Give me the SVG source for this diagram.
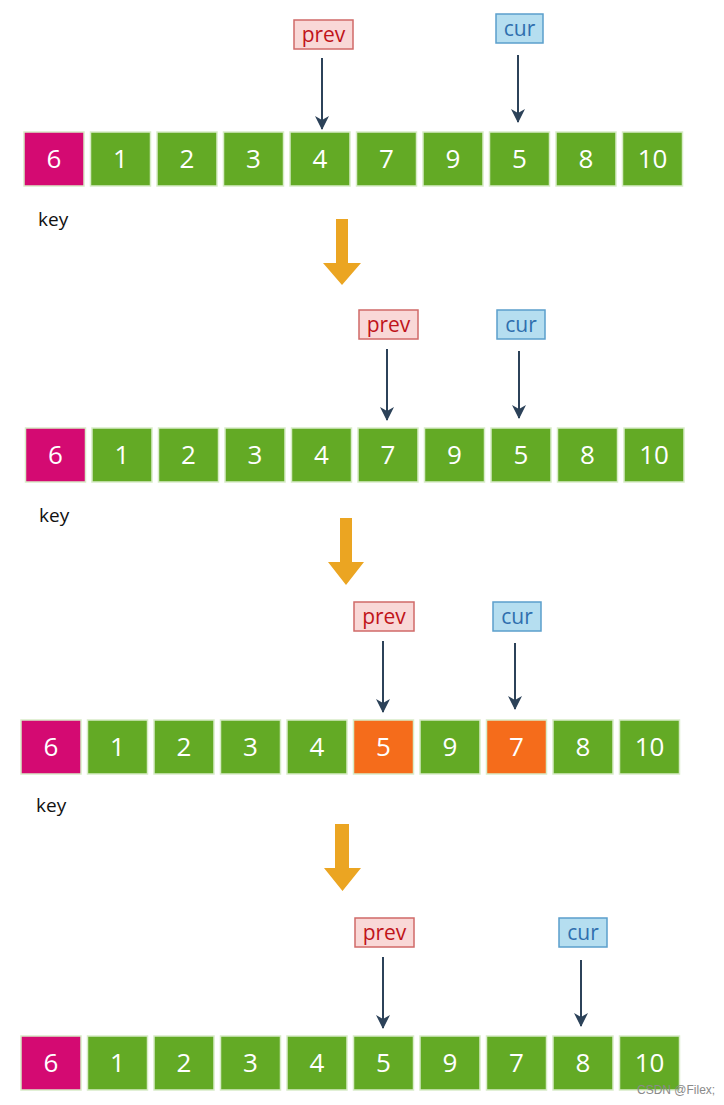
<svg xmlns="http://www.w3.org/2000/svg" width="724" height="1105" viewBox="0 0 724 1105">
<defs>
<style>
.bx{stroke:#d8ecc8;stroke-width:1.5}
.g{fill:#63aa25}
.m{fill:#d40a72}
.o{fill:#f56c1b}
.n{font-family:"Open Sans","DejaVu Sans",sans-serif;font-size:26px;fill:#ffffff;text-anchor:middle}
.key{font-family:"Open Sans","DejaVu Sans",sans-serif;font-size:19px;fill:#111111}
.pl{fill:#f9d8d7;stroke:#d06a68;stroke-width:1.5}
.pt{font-family:"Open Sans","DejaVu Sans",sans-serif;font-size:21px;fill:#c0141a;text-anchor:middle}
.cl{fill:#b5def0;stroke:#5b9fcc;stroke-width:1.5}
.ct{font-family:"Open Sans","DejaVu Sans",sans-serif;font-size:21px;fill:#2f6fae;text-anchor:middle}
.ptr{stroke:#2c4259;stroke-width:2;fill:none;marker-end:url(#ah)}
.big{fill:#eba522}
.wm{font-family:"Liberation Sans",Arial,sans-serif;font-size:12px;fill:#8a8a8a}
</style>
<marker id="ah" markerUnits="userSpaceOnUse" markerWidth="16" markerHeight="16" viewBox="0 0 16 16" refX="13" refY="8" orient="auto">
<path d="M0,1 L14,8 L0,15 L4,8 z" fill="#2c4259"/>
</marker>
</defs>
<rect width="724" height="1105" fill="#ffffff"/>

<!-- Row 1 -->
<g id="row1">
<g id="r1b0"><rect class="bx m" x="24" y="132" width="60" height="54"/><text class="n" x="54" y="168">6</text></g>
<g id="r1b1"><rect class="bx g" x="90.5" y="132" width="60" height="54"/><text class="n" x="120.5" y="168">1</text></g>
<g id="r1b2"><rect class="bx g" x="157" y="132" width="60" height="54"/><text class="n" x="187" y="168">2</text></g>
<g id="r1b3"><rect class="bx g" x="223.5" y="132" width="60" height="54"/><text class="n" x="253.5" y="168">3</text></g>
<g id="r1b4"><rect class="bx g" x="290" y="132" width="60" height="54"/><text class="n" x="320" y="168">4</text></g>
<g id="r1b5"><rect class="bx g" x="356.5" y="132" width="60" height="54"/><text class="n" x="386.5" y="168">7</text></g>
<g id="r1b6"><rect class="bx g" x="423" y="132" width="60" height="54"/><text class="n" x="453" y="168">9</text></g>
<g id="r1b7"><rect class="bx g" x="489.5" y="132" width="60" height="54"/><text class="n" x="519.5" y="168">5</text></g>
<g id="r1b8"><rect class="bx g" x="556" y="132" width="60" height="54"/><text class="n" x="586" y="168">8</text></g>
<g id="r1b9"><rect class="bx g" x="622.5" y="132" width="60" height="54"/><text class="n" x="652.5" y="168">10</text></g>
<text id="r1key" class="key" x="38" y="226">key</text>
<g id="r1prev"><rect class="pl" x="294" y="20" width="59" height="29"/><text class="pt" x="323.5" y="42">prev</text></g>
<g id="r1cur"><rect class="cl" x="496" y="14" width="47" height="29"/><text class="ct" x="519.5" y="36">cur</text></g>
</g>

<!-- Row 2 -->
<g id="row2">
<g id="r2b0"><rect class="bx m" x="25.5" y="428" width="60" height="54"/><text class="n" x="55.5" y="464">6</text></g>
<g id="r2b1"><rect class="bx g" x="92" y="428" width="60" height="54"/><text class="n" x="122" y="464">1</text></g>
<g id="r2b2"><rect class="bx g" x="158.5" y="428" width="60" height="54"/><text class="n" x="188.5" y="464">2</text></g>
<g id="r2b3"><rect class="bx g" x="225" y="428" width="60" height="54"/><text class="n" x="255" y="464">3</text></g>
<g id="r2b4"><rect class="bx g" x="291.5" y="428" width="60" height="54"/><text class="n" x="321.5" y="464">4</text></g>
<g id="r2b5"><rect class="bx g" x="358" y="428" width="60" height="54"/><text class="n" x="388" y="464">7</text></g>
<g id="r2b6"><rect class="bx g" x="424.5" y="428" width="60" height="54"/><text class="n" x="454.5" y="464">9</text></g>
<g id="r2b7"><rect class="bx g" x="491" y="428" width="60" height="54"/><text class="n" x="521" y="464">5</text></g>
<g id="r2b8"><rect class="bx g" x="557.5" y="428" width="60" height="54"/><text class="n" x="587.5" y="464">8</text></g>
<g id="r2b9"><rect class="bx g" x="624" y="428" width="60" height="54"/><text class="n" x="654" y="464">10</text></g>
<text id="r2key" class="key" x="39" y="522">key</text>
<g id="r2prev"><rect class="pl" x="359" y="310" width="59" height="29"/><text class="pt" x="388.5" y="332">prev</text></g>
<g id="r2cur"><rect class="cl" x="497" y="310" width="48" height="29"/><text class="ct" x="521" y="332">cur</text></g>
</g>

<!-- Row 3 -->
<g id="row3">
<g id="r3b0"><rect class="bx m" x="21" y="720" width="60" height="54"/><text class="n" x="51" y="756">6</text></g>
<g id="r3b1"><rect class="bx g" x="87.5" y="720" width="60" height="54"/><text class="n" x="117.5" y="756">1</text></g>
<g id="r3b2"><rect class="bx g" x="154" y="720" width="60" height="54"/><text class="n" x="184" y="756">2</text></g>
<g id="r3b3"><rect class="bx g" x="220.5" y="720" width="60" height="54"/><text class="n" x="250.5" y="756">3</text></g>
<g id="r3b4"><rect class="bx g" x="287" y="720" width="60" height="54"/><text class="n" x="317" y="756">4</text></g>
<g id="r3b5"><rect class="bx o" x="353.5" y="720" width="60" height="54"/><text class="n" x="383.5" y="756">5</text></g>
<g id="r3b6"><rect class="bx g" x="420" y="720" width="60" height="54"/><text class="n" x="450" y="756">9</text></g>
<g id="r3b7"><rect class="bx o" x="486.5" y="720" width="60" height="54"/><text class="n" x="516.5" y="756">7</text></g>
<g id="r3b8"><rect class="bx g" x="553" y="720" width="60" height="54"/><text class="n" x="583" y="756">8</text></g>
<g id="r3b9"><rect class="bx g" x="619.5" y="720" width="60" height="54"/><text class="n" x="649.5" y="756">10</text></g>
<text id="r3key" class="key" x="36" y="812">key</text>
<g id="r3prev"><rect class="pl" x="354" y="602" width="60" height="29"/><text class="pt" x="384" y="624">prev</text></g>
<g id="r3cur"><rect class="cl" x="493" y="602" width="48" height="29"/><text class="ct" x="517" y="624">cur</text></g>
</g>

<!-- Row 4 -->
<g id="row4">
<g id="r4b0"><rect class="bx m" x="21" y="1036" width="60" height="54"/><text class="n" x="51" y="1072">6</text></g>
<g id="r4b1"><rect class="bx g" x="87.5" y="1036" width="60" height="54"/><text class="n" x="117.5" y="1072">1</text></g>
<g id="r4b2"><rect class="bx g" x="154" y="1036" width="60" height="54"/><text class="n" x="184" y="1072">2</text></g>
<g id="r4b3"><rect class="bx g" x="220.5" y="1036" width="60" height="54"/><text class="n" x="250.5" y="1072">3</text></g>
<g id="r4b4"><rect class="bx g" x="287" y="1036" width="60" height="54"/><text class="n" x="317" y="1072">4</text></g>
<g id="r4b5"><rect class="bx g" x="353.5" y="1036" width="60" height="54"/><text class="n" x="383.5" y="1072">5</text></g>
<g id="r4b6"><rect class="bx g" x="420" y="1036" width="60" height="54"/><text class="n" x="450" y="1072">9</text></g>
<g id="r4b7"><rect class="bx g" x="486.5" y="1036" width="60" height="54"/><text class="n" x="516.5" y="1072">7</text></g>
<g id="r4b8"><rect class="bx g" x="553" y="1036" width="60" height="54"/><text class="n" x="583" y="1072">8</text></g>
<g id="r4b9"><rect class="bx g" x="619.5" y="1036" width="60" height="54"/><text class="n" x="649.5" y="1072">10</text></g>
<g id="r4prev"><rect class="pl" x="355" y="918" width="59" height="29"/><text class="pt" x="384.5" y="940">prev</text></g>
<g id="r4cur"><rect class="cl" x="559" y="918" width="48" height="29"/><text class="ct" x="583" y="940">cur</text></g>
</g>

<!-- Connectors -->
<g id="connectors">
<line class="ptr" x1="322" y1="58" x2="322" y2="129"/>
<line class="ptr" x1="518" y1="55" x2="518" y2="122"/>
<line class="ptr" x1="387" y1="349" x2="387" y2="420"/>
<line class="ptr" x1="519" y1="351" x2="519" y2="418"/>
<line class="ptr" x1="383" y1="641" x2="383" y2="712"/>
<line class="ptr" x1="515" y1="643" x2="515" y2="709"/>
<line class="ptr" x1="383" y1="957" x2="383" y2="1028"/>
<line class="ptr" x1="581" y1="960" x2="581" y2="1026"/>
<path class="big" d="M336,219 H348 V263 H361 L342,285 L323,263 H336 Z"/>
<path class="big" d="M340,518 H352 V562 H364 L346,585 L328,562 H340 Z"/>
<path class="big" d="M335,824 H349 V868 H361 L342.5,891 L324,868 H335 Z"/>
</g>

<text class="wm" x="637" y="1094">CSDN @Filex;</text>
</svg>
